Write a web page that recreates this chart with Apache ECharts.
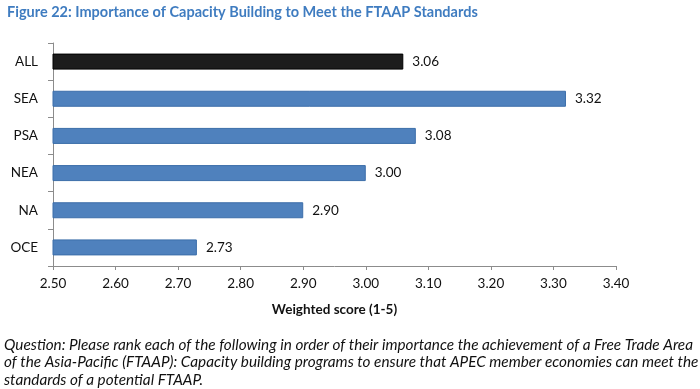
<!DOCTYPE html>
<html>
<head>
<meta charset="utf-8">
<script src="https://cdn.jsdelivr.net/npm/echarts@6/dist/echarts.min.js"></script>
<style>
html,body{margin:0;padding:0;background:#fff;}
#c{width:700px;height:389px;}
</style>
</head>
<body>
<div id="c"></div>
<script>
const categories = ["ALL", "SEA", "PSA", "NEA", "NA", "OCE"];
const scores = [3.06, 3.32, 3.08, 3.00, 2.90, 2.73];
const xTicks = [2.5, 2.6, 2.7, 2.8, 2.9, 3.0, 3.1, 3.2, 3.3, 3.4];
const titleText = "Figure 22: Importance of Capacity Building to Meet the FTAAP Standards";
const xAxisTitle = "Weighted score (1-5)";
const noteLines = [
  "Question: Please rank each of the following in order of their importance the achievement of a Free Trade Area",
  "of the Asia-Pacific (FTAAP): Capacity building programs to ensure that APEC member economies can meet the",
  "standards of a potential FTAAP."
];

const FONT = "Lato";
const chart = echarts.init(document.getElementById('c'), null, {renderer: 'canvas'});
const barData = scores.map((v, i) => ({
  value: v,
  itemStyle: categories[i] === "ALL"
    ? {color: '#1c1c1c', borderColor: '#000000', borderWidth: 1}
    : {color: '#4F81BD', borderColor: '#3C6EAA', borderWidth: 1}
}));

chart.setOption({
  animation: false,
  title: {
    text: titleText,
    left: 2, top: 0,
    textStyle: {fontFamily: FONT, fontWeight: 'bold', fontSize: 14.5, color: '#3F7CC0'}
  },
  grid: {left: 53, right: 84, top: 43, bottom: 123},
  xAxis: {
    type: 'value',
    min: xTicks[0], max: xTicks[xTicks.length - 1], interval: 0.1,
    splitLine: {show: false},
    axisLine: {show: true, lineStyle: {color: '#8c8c8c', width: 1}},
    axisTick: {show: true, length: 4, lineStyle: {color: '#8c8c8c'}},
    axisLabel: {fontFamily: FONT, fontSize: 13.5, color: '#111', margin: 11,
      formatter: v => v.toFixed(2)},
    name: xAxisTitle, nameLocation: 'middle', nameGap: 37,
    nameTextStyle: {fontFamily: FONT, fontWeight: 'bold', fontSize: 13.5, color: '#111'}
  },
  yAxis: {
    type: 'category', data: categories, inverse: true,
    axisLine: {show: true, lineStyle: {color: '#8c8c8c', width: 1}},
    axisTick: {show: true, length: 5, alignWithLabel: false, lineStyle: {color: '#8c8c8c'}},
    axisLabel: {fontFamily: FONT, fontSize: 13.5, color: '#111', margin: 15}
  },
  series: [{
    type: 'bar',
    data: barData,
    barWidth: 16,
    label: {show: true, position: 'right', distance: 9,
      fontFamily: FONT, fontSize: 13.5, color: '#111',
      formatter: p => p.value.toFixed(2)}
  }],
  graphic: noteLines.map((t, i) => ({
    type: 'text', x: 4, y: 345 + i * 17.5,
    style: {text: t, fontFamily: FONT, fontStyle: 'italic', fontSize: 15.3, fill: '#111',
      verticalAlign: 'middle', textVerticalAlign: 'middle'}
  }))
});
</script>
</body>
</html>
